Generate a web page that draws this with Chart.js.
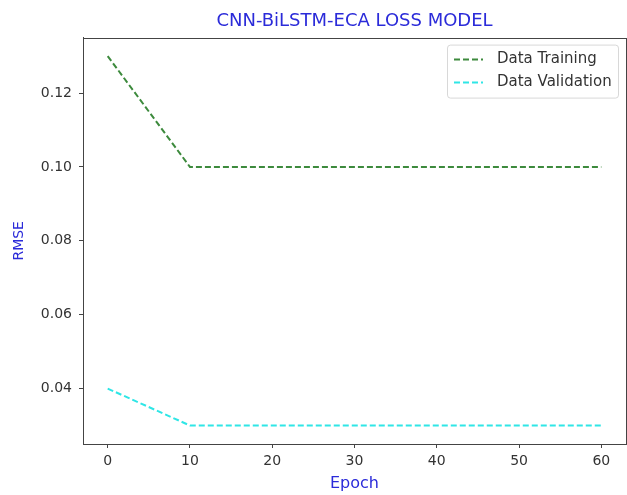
<!DOCTYPE html>
<html>
<head>
<meta charset="utf-8">
<script src="https://cdn.jsdelivr.net/npm/chart.js@4/dist/chart.umd.min.js"></script>
<style>
html,body{margin:0;padding:0;background:#fff;}
#wrap{width:627px;height:495px;position:relative;}
</style>
</head>
<body>
<div id="wrap"><canvas id="c" width="627" height="495"></canvas></div>
<script>
const epochs = [0, 10, 20, 30, 40, 50, 60];
const trainingRMSE = [0.13, 0.10, 0.10, 0.10, 0.10, 0.10, 0.10];
const validationRMSE = [0.04, 0.03, 0.03, 0.03, 0.03, 0.03, 0.03];
const xTicks = [0, 10, 20, 30, 40, 50, 60];
const yTicks = [0.04, 0.06, 0.08, 0.10, 0.12];
const seriesNames = ['Data Training', 'Data Validation'];

const FONT = "'DejaVu Sans', sans-serif";
const TITLE_COLOR = '#2b2bd9';
const INK = '#333';

const framePlugin = {
  id: 'frame',
  beforeDraw(chart) {
    const ctx = chart.ctx;
    ctx.save();
    ctx.fillStyle = '#fff';
    ctx.fillRect(0, 0, chart.width, chart.height);
    ctx.restore();
  },
  afterDraw(chart) {
    const ctx = chart.ctx, a = chart.chartArea;
    ctx.save();
    ctx.strokeStyle = '#444';
    ctx.lineWidth = 1;
    ctx.strokeRect(Math.round(a.left) + 0.5, Math.round(a.top) + 0.5,
                   Math.round(a.right - a.left), Math.round(a.bottom - a.top));
    // legend
    const bw = 171, bh = 53;
    const bx = a.right - 8 - bw, by = a.top + 7;
    ctx.fillStyle = 'rgba(255,255,255,0.85)';
    ctx.strokeStyle = '#d8d8d8';
    ctx.lineWidth = 1;
    ctx.beginPath();
    if (ctx.roundRect) ctx.roundRect(bx + 0.5, by + 0.5, bw, bh, 3); else ctx.rect(bx + 0.5, by + 0.5, bw, bh);
    ctx.fill(); ctx.stroke();
    ctx.font = "15px " + FONT;
    ctx.textBaseline = 'middle';
    chart.data.datasets.forEach((ds, i) => {
      const y = by + 15 + i * 23;
      ctx.strokeStyle = ds.borderColor;
      ctx.lineWidth = ds.borderWidth;
      ctx.setLineDash(ds.borderDash);
      ctx.beginPath();
      ctx.moveTo(bx + 7, y);
      ctx.lineTo(bx + 36, y);
      ctx.stroke();
      ctx.setLineDash([]);
      ctx.fillStyle = INK;
      ctx.fillText(ds.label, bx + 50, y);
    });
    ctx.restore();
  }
};

new Chart(document.getElementById('c'), {
  type: 'line',
  data: {
    datasets: [
      {
        label: seriesNames[0],
        data: epochs.map((e, i) => ({x: e, y: trainingRMSE[i]})),
        borderColor: '#3d8a3d',
        borderWidth: 2,
        borderDash: [6, 3],
        pointRadius: 0,
        fill: false,
        tension: 0
      },
      {
        label: seriesNames[1],
        data: epochs.map((e, i) => ({x: e, y: validationRMSE[i]})),
        borderColor: '#2fe6e6',
        borderWidth: 2,
        borderDash: [6, 3],
        pointRadius: 0,
        fill: false,
        tension: 0
      }
    ]
  },
  options: {
    responsive: false,
    animation: false,
    devicePixelRatio: 1,
    layout: {padding: {left: 0, right: 1, top: 0, bottom: 0}},
    plugins: {
      legend: {display: false},
      tooltip: {enabled: false},
      title: {
        display: true,
        fullSize: false,
        text: 'CNN-BiLSTM-ECA LOSS MODEL',
        color: TITLE_COLOR,
        font: {family: FONT, size: 18, weight: 'normal'},
        padding: {top: 11, bottom: 5}
      }
    },
    scales: {
      x: {
        type: 'linear',
        min: -3,
        max: 63,
        afterBuildTicks: s => { s.ticks = xTicks.map(v => ({value: v})); },
        afterFit: s => { s.height = 51; },
        ticks: {color: INK, font: {family: FONT, size: 14}, padding: 5, maxRotation: 0,
                callback: v => String(v)},
        grid: {display: true, drawOnChartArea: false, drawTicks: true, tickLength: 4, tickColor: '#444'},
        border: {display: true, color: '#444'},
        title: {display: true, text: 'Epoch', color: TITLE_COLOR,
                font: {family: FONT, size: 16}, padding: {top: 2, bottom: 2}}
      },
      y: {
        type: 'linear',
        min: 0.025,
        max: 0.135,
        afterBuildTicks: s => { s.ticks = yTicks.map(v => ({value: v})); },
        afterFit: s => { s.width = 83; },
        ticks: {color: INK, font: {family: FONT, size: 14}, padding: 7,
                callback: v => Number(v).toFixed(2)},
        grid: {display: true, drawOnChartArea: false, drawTicks: true, tickLength: 4, tickColor: '#444'},
        border: {display: true, color: '#444'},
        title: {display: true, text: 'RMSE', color: TITLE_COLOR,
                font: {family: FONT, size: 14}, padding: {top: 11, bottom: 0}}
      }
    }
  },
  plugins: [framePlugin]
});
</script>
</body>
</html>
